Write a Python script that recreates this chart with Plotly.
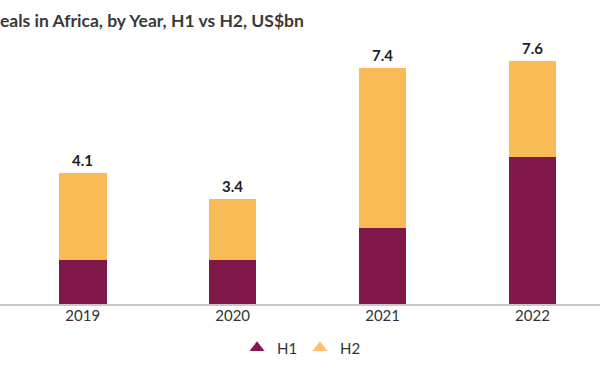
import plotly.graph_objects as go

years = ["2019", "2020", "2021", "2022"]
h1 = [1.38, 1.38, 2.39, 4.60]
h2 = [2.72, 1.90, 5.00, 3.02]
total_labels = ["4.1", "3.4", "7.4", "7.6"]
title_text = "eals in Africa, by Year, H1 vs H2, US$bn"

c_h1 = "#7f1849"
c_h2 = "#f9bb55"
c_h1_leg = "#8c1550"
c_h2_leg = "#f9c070"

fig = go.Figure()
fig.add_trace(go.Bar(x=years, y=h1, name="H1", marker=dict(color=c_h1, line=dict(width=0)),
                     width=0.317, showlegend=False, hoverinfo="skip"))
fig.add_trace(go.Bar(x=years, y=h2, name="H2", marker=dict(color=c_h2, line=dict(width=0)),
                     width=0.317, showlegend=False, hoverinfo="skip"))
# legend entries with triangle symbols
fig.add_trace(go.Scatter(x=[None], y=[None], mode="markers", name="H1",
                         marker=dict(symbol="triangle-up", size=13, color=c_h1_leg)))
fig.add_trace(go.Scatter(x=[None], y=[None], mode="markers", name="H2",
                         marker=dict(symbol="triangle-up", size=13, color=c_h2_leg)))

totals = [a + b for a, b in zip(h1, h2)]
for i, (t, lab) in enumerate(zip(totals, total_labels)):
    fig.add_annotation(x=i, y=t, text=lab, showarrow=False, yanchor="bottom", yshift=2,
                       font=dict(family="Lato", size=15, color="#1e1e1e", weight="bold"))

fig.add_annotation(xref="paper", yref="paper", x=0, y=1, xanchor="left", yanchor="middle",
                   yshift=20, xshift=-2, text=title_text, showarrow=False,
                   font=dict(family="Lato", size=17.5, color="#3a3a3a", weight="bold"))

fig.update_layout(
    width=600, height=372,
    barmode="stack",
    plot_bgcolor="white", paper_bgcolor="white",
    margin=dict(l=0, r=0, t=40, b=68),
    xaxis=dict(type="category", range=[-0.552, 3.45], showline=True, linecolor="#c8c8c8",
               linewidth=2, showgrid=False, ticks="", ticklabelstandoff=-3,
               tickfont=dict(family="Lato", size=15, color="#333333"), fixedrange=True),
    yaxis=dict(range=[0, 8.28], visible=False, showgrid=False, zeroline=False, fixedrange=True),
    legend=dict(orientation="h", x=0.5, xanchor="center", y=-0.167, yanchor="middle",
                traceorder="normal", entrywidth=18, entrywidthmode="pixels",
                font=dict(family="Lato", size=15, color="#333333"), itemwidth=30),
    showlegend=True,
    hovermode=False,
)

fig.write_html("out.html", config={"displayModeBar": False},
               post_script="document.body.style.margin='0';document.body.style.padding='0';")
